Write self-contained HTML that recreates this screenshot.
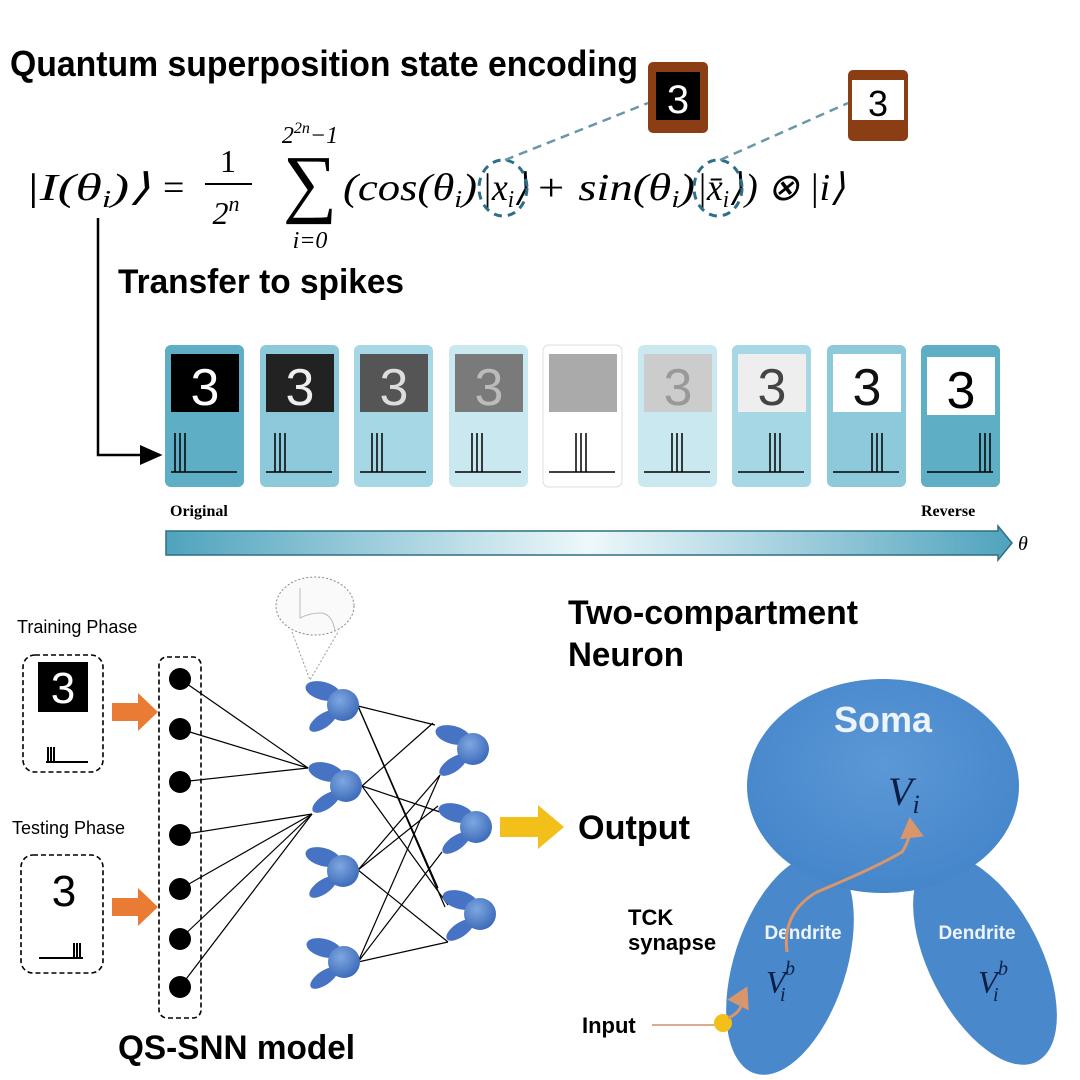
<!DOCTYPE html>
<html><head><meta charset="utf-8"><style>
html,body{margin:0;padding:0;background:#fff}
svg{display:block}
.b{font-family:"Liberation Sans",sans-serif;font-weight:bold}
.m{font-family:"Liberation Serif",serif;font-style:italic}
.r{font-family:"Liberation Serif",serif}
</style></head><body>
<svg width="1080" height="1080" viewBox="0 0 1080 1080" xmlns="http://www.w3.org/2000/svg">
<defs>
<linearGradient id="bar" x1="0" x2="1">
<stop offset="0" stop-color="#4fa3bd"/><stop offset="0.5" stop-color="#eef8fb"/><stop offset="1" stop-color="#4fa3bd"/>
</linearGradient>
<radialGradient id="nb" cx="0.4" cy="0.35" r="0.7"><stop offset="0" stop-color="#7ea7e0"/><stop offset="1" stop-color="#3a68b8"/></radialGradient>
<radialGradient id="soma" cx="0.5" cy="0.4" r="0.7"><stop offset="0" stop-color="#5b98d6"/><stop offset="1" stop-color="#4182c8"/></radialGradient>
<g id="neu">
<ellipse cx="-20" cy="-14" rx="18" ry="9" transform="rotate(15 -20 -14)" fill="#4673c4"/>
<ellipse cx="-20" cy="16" rx="16" ry="7" transform="rotate(-35 -20 16)" fill="#4673c4"/>
<circle cx="0" cy="0" r="16" fill="url(#nb)"/>
</g>
<marker id="ah" markerWidth="10" markerHeight="10" refX="8" refY="5" orient="auto"><path d="M0,1 L9,5 L0,9z" fill="#000"/></marker>
<marker id="oh" markerWidth="8" markerHeight="8" refX="6" refY="4" orient="auto"><path d="M0,0 L7,4 L0,8z" fill="#d9956b"/></marker>
</defs>

<text x="10" y="76" class="b" font-size="36" textLength="628" lengthAdjust="spacingAndGlyphs">Quantum superposition state encoding</text>

<rect x="648" y="62" width="60" height="71" rx="5" fill="#8b3e14"/>
<rect x="656" y="72" width="44" height="48" fill="#000"/>
<text x="678" y="113" font-family="Liberation Sans" font-size="40" fill="#fff" text-anchor="middle">3</text>
<rect x="848" y="70" width="60" height="71" rx="5" fill="#8b3e14"/>
<rect x="852" y="80" width="52" height="40" fill="#fff"/>
<text x="878" y="116" font-family="Liberation Sans" font-size="36" text-anchor="middle">3</text>

<text x="25" y="200" class="m" font-size="38" textLength="125" lengthAdjust="spacingAndGlyphs">|I(θ<tspan font-size="24" dy="7">i</tspan><tspan dy="-7">)⟩</tspan></text>
<text x="163" y="200" class="r" font-size="38">=</text>
<text x="228" y="172" class="r" font-size="32" text-anchor="middle">1</text>
<line x1="205" y1="184" x2="252" y2="184" stroke="#000" stroke-width="2"/>
<text x="226" y="224" class="m" font-size="32" text-anchor="middle">2<tspan font-size="22" dy="-13">n</tspan></text>
<text x="310" y="208" class="r" font-size="76" text-anchor="middle">∑</text>
<text x="310" y="143" class="m" font-size="24" text-anchor="middle">2<tspan font-size="16" dy="-10">2n</tspan><tspan dy="10">−1</tspan></text>
<text x="310" y="248" class="m" font-size="24" text-anchor="middle">i=0</text>
<text x="343" y="200" class="m" font-size="38" textLength="134" lengthAdjust="spacingAndGlyphs">(cos(θ<tspan font-size="24" dy="7">i</tspan><tspan dy="-7">)</tspan></text>
<text x="482" y="200" class="m" font-size="38" textLength="46" lengthAdjust="spacingAndGlyphs">|x<tspan font-size="24" dy="7">i</tspan><tspan dy="-7">⟩</tspan></text>
<text x="535" y="200" class="m" font-size="38" textLength="160" lengthAdjust="spacingAndGlyphs">+ sin(θ<tspan font-size="24" dy="7">i</tspan><tspan dy="-7">)</tspan></text>
<text x="697" y="200" class="m" font-size="38" textLength="46" lengthAdjust="spacingAndGlyphs">|x̄<tspan font-size="24" dy="7">i</tspan><tspan dy="-7">⟩</tspan></text>
<text x="745" y="200" class="m" font-size="38" textLength="100" lengthAdjust="spacingAndGlyphs">) ⊗ |i⟩</text>
<g fill="none" stroke="#2e6f87" stroke-width="3" stroke-dasharray="8,6">
<ellipse cx="503" cy="188" rx="24" ry="28"/>
<ellipse cx="718" cy="188" rx="24" ry="28"/>
</g>
<g stroke="#6a97a8" stroke-width="2.5" stroke-dasharray="9,6">
<line x1="505" y1="160" x2="648" y2="103"/>
<line x1="720" y1="160" x2="848" y2="103"/>
</g>

<path d="M98 218 V455 H160" fill="none" stroke="#000" stroke-width="2.5" marker-end="url(#ah)"/>
<text x="118" y="293" class="b" font-size="34" textLength="286" lengthAdjust="spacingAndGlyphs">Transfer to spikes</text>

<g>
<g transform="translate(165,345)"><rect width="79" height="142" rx="6" fill="#5eaec6"/><rect x="6" y="9" width="68" height="58" fill="#000"/><text x="40" y="60" font-family="Liberation Sans" font-size="52" fill="#fff" text-anchor="middle">3</text></g>
<g transform="translate(260,345)"><rect width="79" height="142" rx="6" fill="#8ccadb"/><rect x="6" y="9" width="68" height="58" fill="#222"/><text x="40" y="60" font-family="Liberation Sans" font-size="52" fill="#eee" text-anchor="middle">3</text></g>
<g transform="translate(354,345)"><rect width="79" height="142" rx="6" fill="#a6d7e5"/><rect x="6" y="9" width="68" height="58" fill="#555"/><text x="40" y="60" font-family="Liberation Sans" font-size="52" fill="#ddd" text-anchor="middle">3</text></g>
<g transform="translate(449,345)"><rect width="79" height="142" rx="6" fill="#cae8f0"/><rect x="6" y="9" width="68" height="58" fill="#7a7a7a"/><text x="40" y="60" font-family="Liberation Sans" font-size="52" fill="#bbb" text-anchor="middle">3</text></g>
<g transform="translate(543,345)"><rect width="79" height="142" rx="6" fill="#fff" stroke="#ddd"/><rect x="6" y="9" width="68" height="58" fill="#aaa"/></g>
<g transform="translate(638,345)"><rect width="79" height="142" rx="6" fill="#cae8f0"/><rect x="6" y="9" width="68" height="58" fill="#ccc"/><text x="40" y="60" font-family="Liberation Sans" font-size="52" fill="#999" text-anchor="middle">3</text></g>
<g transform="translate(732,345)"><rect width="79" height="142" rx="6" fill="#a6d7e5"/><rect x="6" y="9" width="68" height="58" fill="#eee"/><text x="40" y="60" font-family="Liberation Sans" font-size="52" fill="#444" text-anchor="middle">3</text></g>
<g transform="translate(827,345)"><rect width="79" height="142" rx="6" fill="#8ccadb"/><rect x="6" y="9" width="68" height="58" fill="#fff"/><text x="40" y="60" font-family="Liberation Sans" font-size="52" fill="#111" text-anchor="middle">3</text></g>
<g transform="translate(921,345)"><rect width="79" height="142" rx="6" fill="#5eaec6"/><rect x="6" y="12" width="68" height="58" fill="#fff"/><text x="40" y="63" font-family="Liberation Sans" font-size="52" fill="#000" text-anchor="middle">3</text></g>
</g>
<g stroke="#000" stroke-width="1.5">
<path d="M171 472h66M175 472v-39M180 472v-39M185 472v-39"/>
<path d="M266 472h66M275 472v-39M280 472v-39M285 472v-39"/>
<path d="M360 472h66M372 472v-39M377 472v-39M382 472v-39"/>
<path d="M455 472h66M472 472v-39M477 472v-39M482 472v-39"/>
<path d="M549 472h66M576 472v-39M581 472v-39M586 472v-39"/>
<path d="M644 472h66M672 472v-39M677 472v-39M682 472v-39"/>
<path d="M738 472h66M770 472v-39M775 472v-39M780 472v-39"/>
<path d="M833 472h66M872 472v-39M877 472v-39M882 472v-39"/>
<path d="M927 472h66M980 472v-39M985 472v-39M990 472v-39"/>
</g>
<text x="170" y="516" class="r" font-weight="bold" font-size="16">Original</text>
<text x="921" y="516" class="r" font-weight="bold" font-size="16">Reverse</text>
<path d="M166 531 H998 V526 L1012 543 L998 560 V555 H166 Z" fill="url(#bar)" stroke="#2f6f84" stroke-width="1.5"/>
<text x="1018" y="550" class="m" font-size="20">θ</text>

<text x="17" y="633" font-family="Liberation Sans" font-size="18">Training Phase</text>
<rect x="23" y="655" width="80" height="117" rx="12" fill="none" stroke="#000" stroke-width="1.6" stroke-dasharray="5,3"/>
<rect x="38" y="662" width="50" height="50" fill="#000"/>
<text x="63" y="703" font-family="Liberation Sans" font-size="44" fill="#fff" text-anchor="middle">3</text>
<path d="M46 762h42M48 762v-15M51 762v-15M54 762v-15" stroke="#000" stroke-width="2"/>
<text x="12" y="834" font-family="Liberation Sans" font-size="18">Testing Phase</text>
<rect x="21" y="855" width="82" height="118" rx="12" fill="none" stroke="#000" stroke-width="1.6" stroke-dasharray="5,3"/>
<text x="64" y="906" font-family="Liberation Sans" font-size="44" text-anchor="middle">3</text>
<path d="M39 958h44M74 958v-15M77 958v-15M80 958v-15" stroke="#000" stroke-width="2"/>
<path d="M112 703h26v-10l20 19-20 19v-10h-26z" fill="#ea7b35"/>
<path d="M112 898h26v-10l20 19-20 19v-10h-26z" fill="#ea7b35"/>
<rect x="159" y="657" width="42" height="361" rx="8" fill="none" stroke="#000" stroke-width="1.6" stroke-dasharray="5,3"/>

<g stroke="#000" stroke-width="1.2">
<line x1="180" y1="679" x2="308" y2="768"/><line x1="180" y1="729" x2="308" y2="768"/><line x1="180" y1="782" x2="308" y2="768"/>
<line x1="180" y1="835" x2="312" y2="814"/><line x1="180" y1="889" x2="312" y2="814"/><line x1="180" y1="939" x2="312" y2="814"/><line x1="180" y1="987" x2="312" y2="814"/>
<line x1="358" y1="706" x2="435" y2="725"/><line x1="358" y1="706" x2="438" y2="888"/><line x1="358" y1="706" x2="445" y2="907"/>
<line x1="362" y1="786" x2="433" y2="723"/><line x1="362" y1="786" x2="440" y2="812"/><line x1="362" y1="786" x2="448" y2="905"/>
<line x1="358" y1="870" x2="438" y2="806"/><line x1="358" y1="870" x2="448" y2="942"/><line x1="358" y1="870" x2="440" y2="775"/>
<line x1="358" y1="962" x2="440" y2="775"/><line x1="358" y1="962" x2="442" y2="852"/><line x1="358" y1="962" x2="448" y2="942"/>
</g>
<g fill="#000">
<circle cx="180" cy="679" r="11"/><circle cx="180" cy="729" r="11"/><circle cx="180" cy="782" r="11"/><circle cx="180" cy="835" r="11"/><circle cx="180" cy="889" r="11"/><circle cx="180" cy="939" r="11"/><circle cx="180" cy="987" r="11"/>
</g>
<use href="#neu" x="343" y="705"/><use href="#neu" x="346" y="786"/><use href="#neu" x="343" y="871"/><use href="#neu" x="344" y="962"/>
<use href="#neu" x="473" y="749"/><use href="#neu" x="476" y="827"/><use href="#neu" x="480" y="914"/>
<ellipse cx="315" cy="606" rx="39" ry="29" fill="#fafafa" stroke="#888" stroke-dasharray="2,2"/>
<path d="M292 632 L310 680 L338 632" fill="none" stroke="#999" stroke-dasharray="2,2"/>
<path d="M300 588 v30 q10 -5 20 -5 q12 0 15 18" fill="none" stroke="#bbb"/>
<path d="M500 817h38v-12l26 22-26 22v-12h-38z" fill="#f3c01a"/>
<text x="578" y="839" class="b" font-size="34" textLength="112" lengthAdjust="spacingAndGlyphs">Output</text>
<text x="118" y="1059" class="b" font-size="34" textLength="237" lengthAdjust="spacingAndGlyphs">QS-SNN model</text>

<text x="568" y="624" class="b" font-size="34" textLength="290" lengthAdjust="spacingAndGlyphs">Two-compartment</text>
<text x="568" y="666" class="b" font-size="34" textLength="116" lengthAdjust="spacingAndGlyphs">Neuron</text>
<ellipse cx="790" cy="965" rx="56" ry="114" transform="rotate(18 790 965)" fill="#4a88cc"/>
<ellipse cx="985" cy="960" rx="56" ry="114" transform="rotate(-27 985 960)" fill="#4a88cc"/>
<ellipse cx="883" cy="786" rx="136" ry="107" fill="url(#soma)"/>
<text x="883" y="732" class="b" font-size="36" fill="#eef4fb" text-anchor="middle">Soma</text>
<text x="888" y="805" font-family="Liberation Serif" font-style="italic" font-size="40" fill="#0b1f45">V<tspan font-size="26" dy="8">i</tspan></text>
<text x="803" y="939" class="b" font-size="19" fill="#eef4fb" text-anchor="middle">Dendrite</text>
<text x="977" y="939" class="b" font-size="19" fill="#eef4fb" text-anchor="middle">Dendrite</text>
<text x="766" y="993" class="m" font-size="32" fill="#0b1f45">V</text><text x="785" y="975" class="m" font-size="20" fill="#0b1f45">b</text><text x="780" y="1001" class="m" font-size="20" fill="#0b1f45">i</text>
<text x="978" y="993" class="m" font-size="32" fill="#0b1f45">V</text><text x="998" y="975" class="m" font-size="20" fill="#0b1f45">b</text><text x="993" y="1001" class="m" font-size="20" fill="#0b1f45">i</text>
<text x="628" y="925" class="b" font-size="22">TCK</text>
<text x="628" y="950" class="b" font-size="22">synapse</text>
<text x="582" y="1033" class="b" font-size="22">Input</text>
<line x1="652" y1="1025" x2="716" y2="1025" stroke="#c07a4a" stroke-width="1.2"/>
<circle cx="723" cy="1023" r="9" fill="#f3c01a"/>
<path d="M728 1018 q12 -5 14 -15 q2 -10 4 -14" fill="none" stroke="#d9956b" stroke-width="3" marker-end="url(#oh)"/>
<path d="M787 952 q-5 -40 30 -60 q60 -25 85 -40 q10 -15 8 -32" fill="none" stroke="#d9956b" stroke-width="3" marker-end="url(#oh)"/>
</svg>
</body></html>
